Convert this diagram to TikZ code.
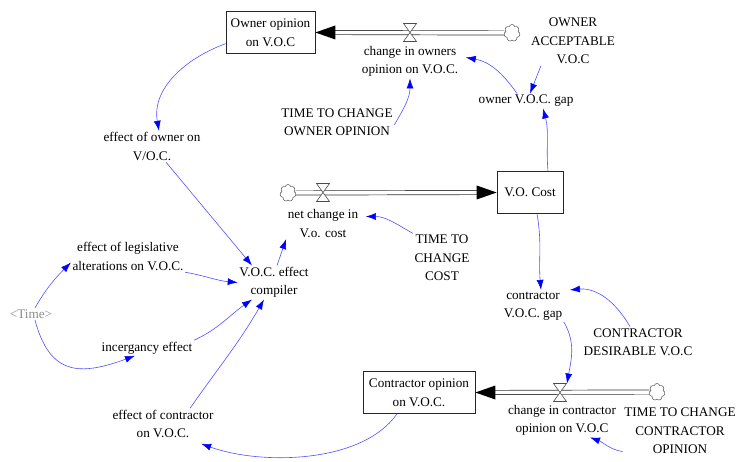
\documentclass[tikz,border=0pt]{standalone}
\usepackage{fontspec}
\setmainfont{Liberation Serif}
\usetikzlibrary{arrows.meta,shapes.symbols,calc}
\definecolor{linkblue}{RGB}{80,80,255}
\definecolor{tipblue}{RGB}{0,0,255}
\definecolor{timegray}{RGB}{140,140,140}
\begin{document}
\begin{tikzpicture}[x=1pt,y=1pt,
  lbl/.style={font=\fontsize{13.2}{18.5}\selectfont, align=center, inner sep=1.5pt},
  stock/.style={lbl, draw=black!85, line width=0.7pt, minimum height=42pt, inner sep=2pt},
  infl/.style={draw=linkblue, line width=0.6pt, -{Latex[length=10pt,width=7pt,fill=tipblue,color=tipblue]}},
  pipe/.style={draw=black!80, line width=0.7pt, double=white, double distance=3.5pt},
  cloudy/.style={cloud, cloud puffs=7, aspect=0.9, draw=black!60, line width=0.6pt, fill=white, minimum width=16pt, minimum height=17pt, inner sep=0pt},
  flowtip/.style={fill=black},
  valvepic/.pic={\draw[fill=white, draw=black!70, line width=0.6pt] (-6.5,9) -- (6.5,9) -- (-6.5,-9) -- (6.5,-9) -- cycle;}
]
\useasboundingbox (0,0) rectangle (738,-462);

% stocks
\node[stock, minimum width=89pt] (ownerbox) at (270.5,-32.5) {Owner opinion\\on V.O.C};
\node[stock, minimum width=66pt] (vocost) at (530,-192.5) {V.O. Cost};
\node[stock, minimum width=112pt] (cbox) at (419,-392.5) {Contractor opinion\\on V.O.C.};

% clouds
\node[cloudy] (cloud1) at (512,-33) {};
\node[cloudy] (cloud2) at (288,-193) {};
\node[cloudy] (cloud3) at (657,-392) {};

% pipes
\draw[pipe] (cloud1.west) -- ($(ownerbox.east)+(18,0)$);
\fill[flowtip] ($(ownerbox.east)+(20,7)$) -- (ownerbox.east) -- ($(ownerbox.east)+(20,-7)$) -- cycle;
\draw[pipe] (cloud2.east) -- ($(vocost.west)+(-18,0)$);
\fill[flowtip] ($(vocost.west)+(-20,7)$) -- (vocost.west) -- ($(vocost.west)+(-20,-7)$) -- cycle;
\draw[pipe] (cloud3.west) -- ($(cbox.east)+(18,0)$);
\fill[flowtip] ($(cbox.east)+(20,7)$) -- (cbox.east) -- ($(cbox.east)+(20,-7)$) -- cycle;

% valves
\coordinate (v1) at (410,-32.5);
\coordinate (v2) at (323,-192.5);
\coordinate (cv) at (560,-392.5);
\pic at (v1) {valvepic};
\pic at (v2) {valvepic};
\pic at (cv) {valvepic};

% variables
\node[lbl] (changeowners) at (410,-61.5) {change in owners\\opinion on V.O.C.};
\node[lbl] (timeowner) at (337,-122) {TIME TO CHANGE\\OWNER OPINION};
\node[lbl] (ownacc) at (573,-41) {OWNER\\ACCEPTABLE\\V.O.C};
\node[lbl] (ownergap) at (526,-101) {owner V.O.C. gap};
\node[lbl] (effowner) at (152,-146.5) {effect of owner on\\V/O.C.};
\node[lbl] (netchange) at (323,-223.5) {net change in\\V.o. cost};
\node[lbl] (timecost) at (442,-258) {TIME TO\\CHANGE\\COST};
\node[lbl] (legis) at (128,-256.5) {effect of legislative\\alterations on V.O.C.};
\node[lbl] (compiler) at (274,-282.5) {V.O.C. effect\\compiler};
\node[lbl, text=timegray] (time) at (31,-314) {\textless Time\textgreater};
\node[lbl] (incerg) at (147,-348) {incergancy effect};
\node[lbl] (contrgap) at (533,-306) {contractor\\V.O.C. gap};
\node[lbl] (contrdes) at (638,-342) {CONTRACTOR\\DESIRABLE V.O.C};
\node[lbl] (effcontr) at (163,-424) {effect of contractor\\on V.O.C.};
\node[lbl] (changecontr) at (562,-420.5) {change in contractor\\opinion on V.O.C};
\node[lbl] (timecontr) at (680,-431) {TIME TO CHANGE\\CONTRACTOR\\OPINION};

% links
\draw[infl] (ownerbox.194) to[out=200,in=100] ([xshift=7pt]effowner.north);
\draw[infl] ([xshift=14pt]effowner.south) -- ([xshift=-22pt]compiler.north);
\draw[infl] (legis.south east) to[out=-10,in=175] (compiler.west);
\draw[infl] ([xshift=4pt]time.north) to[out=60,in=225] ([yshift=-6pt]legis.west);
\draw[infl] ([xshift=4pt]time.south) to[out=-75,in=200,looseness=1.4] ([xshift=-12pt]incerg.south);
\draw[infl] (incerg.north east) to[out=25,in=215] ([xshift=-22pt]compiler.south);
\draw[infl] ([xshift=27pt]effcontr.north) to[out=55,in=240] ([xshift=-10pt]compiler.south);
\draw[infl] ([xshift=3pt]compiler.north) -- (netchange.south west);
\draw[infl] (timecost.north west) to[out=150,in=0] ([xshift=6pt,yshift=7pt]netchange.east);
\draw[infl] ([xshift=18pt]vocost.north) to[out=95,in=-75] ([xshift=17pt]ownergap.south);
\draw[infl] ([xshift=-32pt]ownacc.south) -- ([xshift=4pt]ownergap.north);
\draw[infl] ([xshift=-9pt]ownergap.north) to[out=125,in=-10] ([xshift=6pt,yshift=4pt]changeowners.east);
\draw[infl] ([yshift=-3pt]timeowner.east) to[out=60,in=-90] (changeowners.south);
\draw[infl] ([xshift=7pt]vocost.south) to[out=-80,in=95] ([xshift=8pt]contrgap.north);
\draw[infl] ([xshift=-8pt]contrdes.north) to[out=120,in=5] ([xshift=6pt]contrgap.north east);
\draw[infl] (contrgap.south east) to[out=-60,in=80] ([xshift=7pt,yshift=9pt]cv);
\draw[infl] ([yshift=4pt]timecontr.south west) to[out=170,in=-20] ([xshift=28pt]changecontr.south);
\draw[infl] ([xshift=-22pt]cbox.south) to[out=-125,in=-20,looseness=0.8] ([xshift=-14pt,yshift=-4pt]effcontr.south east);
\end{tikzpicture}
\end{document}
